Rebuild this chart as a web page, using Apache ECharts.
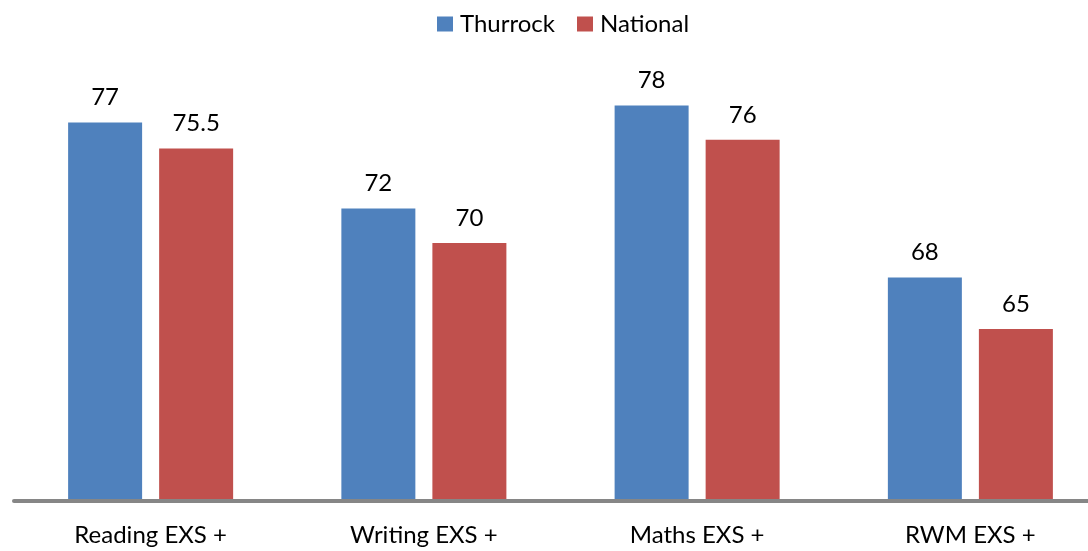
<!DOCTYPE html>
<html>
<head>
<meta charset="utf-8">
<script src="https://cdn.jsdelivr.net/npm/echarts@6/dist/echarts.min.js"></script>
<style>
html,body{margin:0;padding:0;background:#fff;overflow:hidden;width:1088px;height:551px;}
#chart{width:1107px;height:551px;}
</style>
</head>
<body>
<div id="chart"></div>
<script>
const categories = ['Reading EXS +', 'Writing EXS +', 'Maths EXS +', 'RWM EXS +'];
const thurrock = [77, 72, 78, 68];
const national = [75.5, 70, 76, 65];
const seriesNames = ['Thurrock', 'National'];

const FONT = 'Lato';
const chart = echarts.init(document.getElementById('chart'), null, {renderer: 'canvas'});
const labelStyle = {
  show: true,
  position: 'top',
  distance: 13,
  color: '#000',
  fontFamily: FONT,
  fontSize: 24
};
chart.setOption({
  animation: false,
  backgroundColor: '#fff',
  legend: {
    data: seriesNames,
    left: 432,
    top: 7,
    itemWidth: 16,
    itemHeight: 15,
    itemGap: 22,
    icon: 'rect',
    textStyle: {fontFamily: FONT, fontSize: 24, color: '#000', padding: [0, 0, 0, 2]}
  },
  grid: {left: 14, right: 0, top: 71, bottom: 50, containLabel: false},
  xAxis: {
    type: 'category',
    data: categories,
    z: 5,
    axisLine: {show: true, lineStyle: {color: '#868686', width: 4}},
    axisTick: {show: false},
    axisLabel: {color: '#000', fontFamily: FONT, fontSize: 24, margin: 22, interval: 0}
  },
  yAxis: {
    type: 'value',
    min: 55,
    max: 80,
    show: false,
    splitLine: {show: false}
  },
  series: [
    {
      name: seriesNames[0],
      type: 'bar',
      data: thurrock,
      barWidth: 74,
      barGap: '23%',
      itemStyle: {color: '#4F81BD'},
      label: labelStyle
    },
    {
      name: seriesNames[1],
      type: 'bar',
      data: national,
      barWidth: 74,
      barGap: '23%',
      itemStyle: {color: '#C0504D'},
      label: labelStyle
    }
  ]
});
</script>
</body>
</html>
